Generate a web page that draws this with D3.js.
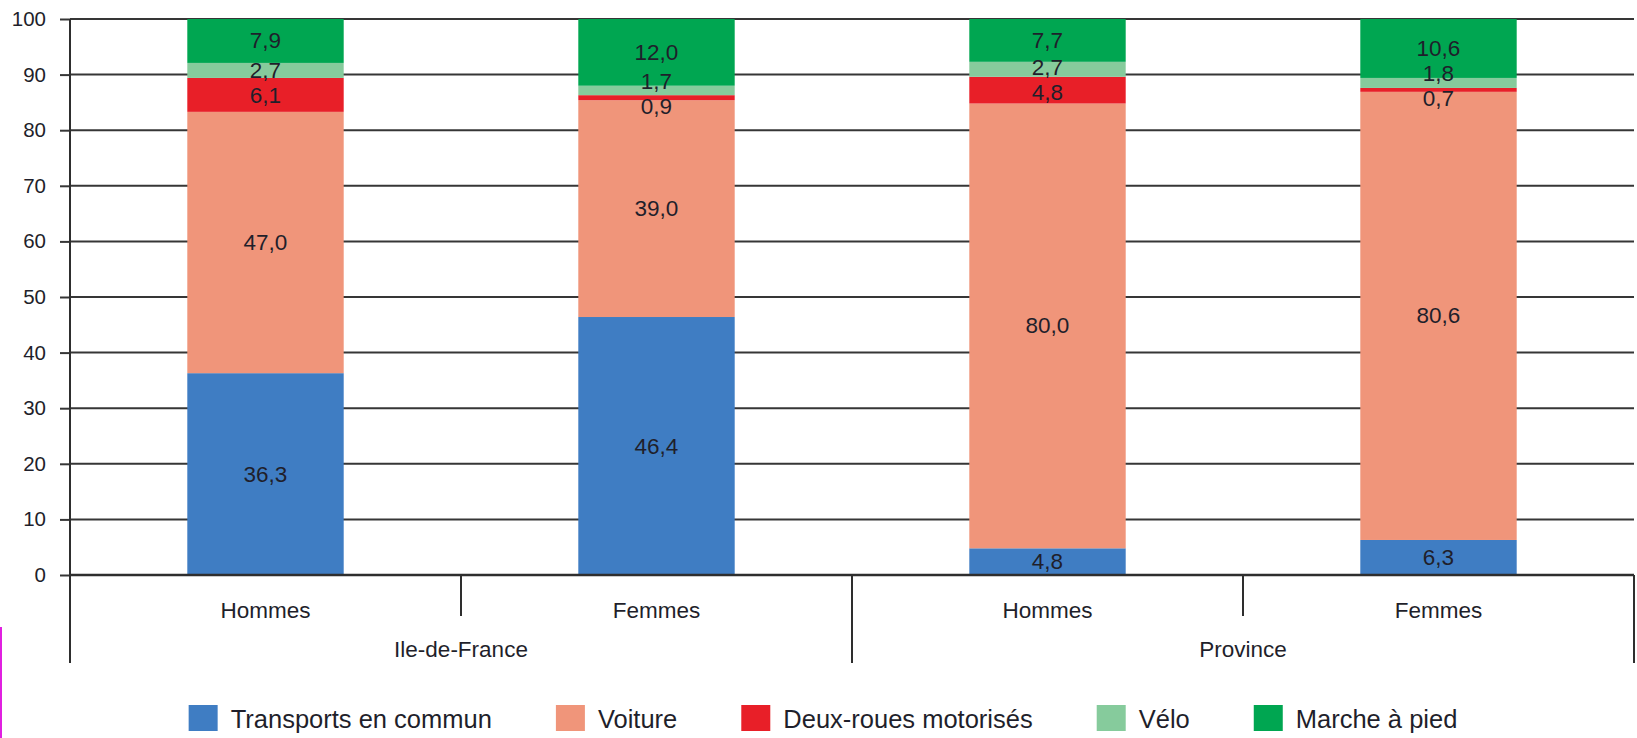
<!DOCTYPE html>
<html>
<head>
<meta charset="utf-8">
<script src="https://cdn.jsdelivr.net/npm/d3@7"></script>
<style>
  html, body { margin: 0; padding: 0; background: #fff; }
  svg { display: block; }
  text { font-family: "Liberation Sans", Arial, sans-serif; fill: #1f1f2b; }
</style>
</head>
<body>
<svg id="chart" width="1637" height="738"></svg>
<script>
// ---- data ----
const groups = ["Ile-de-France", "Province"];
const sexes = ["Hommes", "Femmes"];
const modes = ["Transports en commun", "Voiture", "Deux-roues motorisés", "Vélo", "Marche à pied"];
const colors = ["#3f7dc3", "#f0957a", "#e81f28", "#86cb9c", "#00a651"];
// values per bar in order: IDF Hommes, IDF Femmes, Province Hommes, Province Femmes
const transports = [36.3, 46.4, 4.8, 6.3];
const voiture    = [47.0, 39.0, 80.0, 80.6];
const deuxRoues  = [6.1, 0.9, 4.8, 0.7];
const velo       = [2.7, 1.7, 2.7, 1.8];
const marche     = [7.9, 12.0, 7.7, 10.6];
const yTicks = [0, 10, 20, 30, 40, 50, 60, 70, 80, 90, 100];

(function () {
const series = [transports, voiture, deuxRoues, velo, marche];

const svg = d3.select("#chart");
const W = 1637, H = 738;
const mLeft = 70, mRight = 1634, mTop = 19, mBottom = 575, axisBottom = 663;

svg.append("rect").attr("width", W).attr("height", H).attr("fill", "#fff");

const x0 = d3.scaleBand().domain(groups).range([mLeft, mRight]).padding(0);
const x1 = d3.scaleBand().domain(sexes).range([0, x0.bandwidth()]).paddingInner(0.6).paddingOuter(0.3);
const y = d3.scaleLinear().domain([0, 100]).range([mBottom, mTop]);

// gridlines
svg.append("g").selectAll("line").data(yTicks.filter(t => t > 0)).join("line")
  .attr("x1", mLeft).attr("x2", mRight)
  .attr("y1", d => y(d)).attr("y2", d => y(d))
  .attr("stroke", "#363636").attr("stroke-width", 2);

// bars
const bars = [];
groups.forEach((g, gi) => sexes.forEach((s, si) => bars.push({ g, s, i: gi * 2 + si })));

const barG = svg.append("g");
bars.forEach(b => {
  const bx = x0(b.g) + x1(b.s);
  let cum = 0;
  const labels = [];
  series.forEach((arr, k) => {
    const v = arr[b.i];
    const y0 = cum, y1 = cum + v;
    cum = y1;
    barG.append("rect")
      .attr("x", bx).attr("width", x1.bandwidth())
      .attr("y", y(y1)).attr("height", y(y0) - y(y1))
      .attr("fill", colors[k]);
    labels.push({ v, pos: (y(y0) + y(y1)) / 2 });
  });
  // simple collision avoidance between stacked labels
  const minSep = 25;
  for (let it = 0; it < 50; it++) {
    for (let k = 0; k < labels.length - 1; k++) {
      const a = labels[k], c = labels[k + 1];
      const d = a.pos - c.pos;
      if (d < minSep) {
        const push = (minSep - d) / 2;
        a.pos += push; c.pos -= push;
      }
    }
  }
  labels.forEach(l => {
    barG.append("text")
      .attr("x", bx + x1.bandwidth() / 2).attr("y", l.pos)
      .attr("text-anchor", "middle").attr("dominant-baseline", "central")
      .attr("font-size", 22.5)
      .text(d3.format(".1f")(l.v).replace(".", ","));
  });
});

// y axis
const yAxis = d3.axisLeft(y).tickValues(yTicks).tickSize(10).tickPadding(14).tickFormat(d3.format("d"));
const ya = svg.append("g").attr("transform", `translate(${mLeft},0)`).call(yAxis);
ya.select(".domain").remove();
ya.selectAll(".tick line").attr("stroke", "#363636").attr("stroke-width", 2);
ya.selectAll(".tick text").attr("font-size", 20.5).attr("fill", "#1f1f2b")
  .style("font-family", '"Liberation Sans", Arial, sans-serif');

// axis lines
const lineColor = "#2e2e2e";
svg.append("line").attr("x1", mLeft).attr("x2", mLeft).attr("y1", mTop).attr("y2", axisBottom)
  .attr("stroke", lineColor).attr("stroke-width", 2);
svg.append("line").attr("x1", mLeft).attr("x2", mRight).attr("y1", mBottom).attr("y2", mBottom)
  .attr("stroke", lineColor).attr("stroke-width", 2.5);
const longSeps = [x0("Province"), mRight];
svg.append("g").selectAll("line").data(longSeps).join("line")
  .attr("x1", d => d).attr("x2", d => d).attr("y1", mBottom).attr("y2", axisBottom)
  .attr("stroke", lineColor).attr("stroke-width", 2);
const shortSeps = groups.map(g => x0(g) + x0.bandwidth() / 2);
svg.append("g").selectAll("line").data(shortSeps).join("line")
  .attr("x1", d => d).attr("x2", d => d).attr("y1", mBottom).attr("y2", 616)
  .attr("stroke", lineColor).attr("stroke-width", 2);

// category labels
bars.forEach(b => {
  svg.append("text").attr("x", x0(b.g) + x1(b.s) + x1.bandwidth() / 2).attr("y", 618)
    .attr("text-anchor", "middle").attr("font-size", 22.5).text(b.s);
});
groups.forEach(g => {
  svg.append("text").attr("x", x0(g) + x0.bandwidth() / 2).attr("y", 657)
    .attr("text-anchor", "middle").attr("font-size", 22.5).text(g);
});

// legend
const lg = svg.append("g");
const items = modes.map((m, k) => {
  const gItem = lg.append("g");
  gItem.append("rect").attr("x", 0).attr("y", 705).attr("width", 29).attr("height", 26).attr("fill", colors[k]);
  const t = gItem.append("text").attr("x", 42).attr("y", 728).attr("font-size", 25.5).text(m);
  return { gItem, w: 42 + t.node().getComputedTextLength() };
});
const gap = 64;
const total = d3.sum(items, d => d.w) + gap * (items.length - 1);
let cx = 823 - total / 2;
items.forEach(it => { it.gItem.attr("transform", `translate(${cx},0)`); cx += it.w + gap; });

// small magenta edge mark present in the source image
svg.append("line").attr("x1", 1).attr("x2", 1).attr("y1", 627).attr("y2", 738)
  .attr("stroke", "#e020e0").attr("stroke-width", 2);
})();
</script>
</body>
</html>
